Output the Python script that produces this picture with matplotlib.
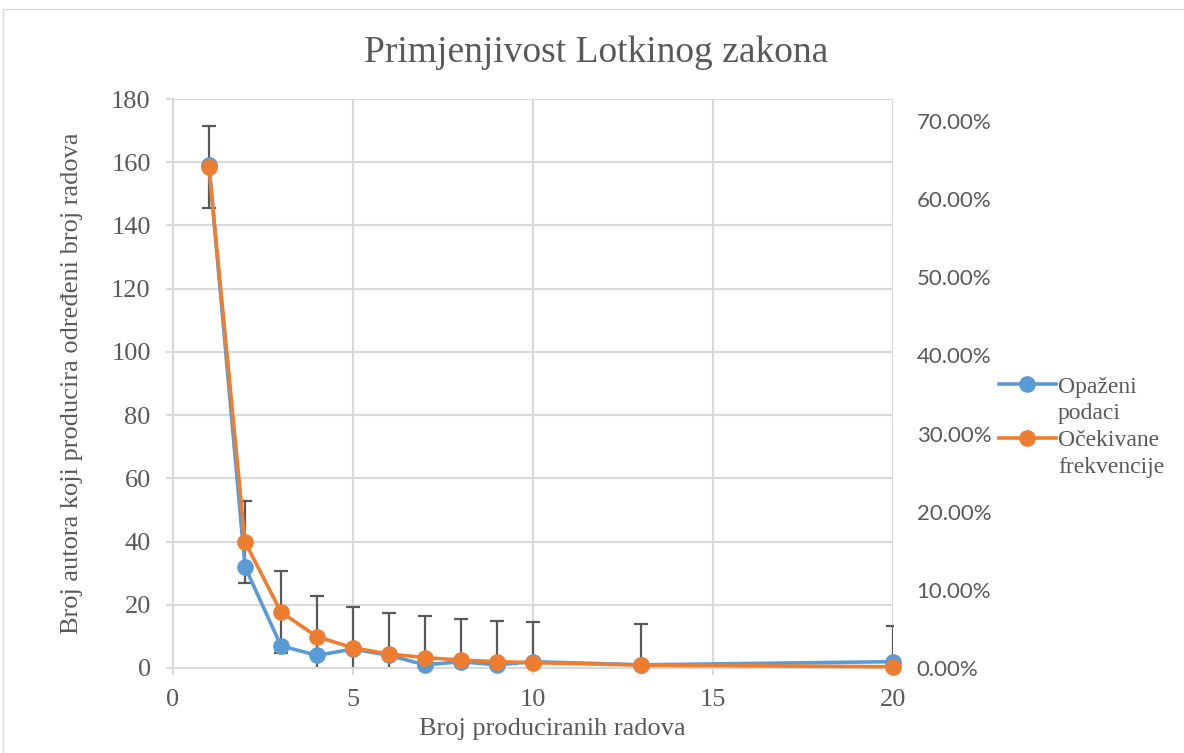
import matplotlib
matplotlib.use("Agg")
import matplotlib.pyplot as plt
from matplotlib.patches import Rectangle
from matplotlib.lines import Line2D
from matplotlib.ticker import FuncFormatter, MultipleLocator

# ---- data ----
x_vals = [1, 2, 3, 4, 5, 6, 7, 8, 9, 10, 13, 20]
observed = [159, 32, 7, 4, 6, 4, 1, 2, 1, 2, 1, 2]
expected = [158.5, 39.9, 17.7, 9.9, 6.4, 4.4, 3.3, 2.5, 2.0, 1.7, 0.94, 0.4]
err_value = 13
series_names = [("Opaženi", "podaci"), ("Očekivane", "frekvencije")]
title = "Primjenjivost Lotkinog zakona"
xlabel = "Broj produciranih radova"
ylabel = "Broj autora koji producira određeni broj radova"
x_ticks = [0, 5, 10, 15, 20]
right_ticks = [0.0, 0.1, 0.2, 0.3, 0.4, 0.5, 0.6, 0.7]

BLUE = "#5B9BD5"
ORANGE = "#ED7D31"
TXT = "#595959"
GRID = "#D9D9D9"
SERIF = ["Liberation Serif", "DejaVu Serif"]
SANS = ["Lato", "DejaVu Sans"]

W, H = 1184, 753
fig = plt.figure(figsize=(W / 100, H / 100), dpi=100)
fig.patch.set_facecolor("white")

# chart border
fig.patches.append(Rectangle((3 / W, -0.1), 1.2, 1.1 - 9 / H, transform=fig.transFigure,
                             fill=False, edgecolor="#D9D9D9", linewidth=1.0))

l, r, t, b = 173, 893, 99, 668
ax = fig.add_axes([l / W, 1 - b / H, (r - l) / W, (b - t) / H])
ax.set_xlim(0, 20)
ax.set_ylim(0, 180)

for s in ax.spines.values():
    s.set_visible(False)
for side in ("bottom", "left"):
    ax.spines[side].set_visible(True)
    ax.spines[side].set_color(GRID)
    ax.spines[side].set_linewidth(1.5)

ax.set_xticks(x_ticks)
ax.yaxis.set_major_locator(MultipleLocator(20))
ax.grid(True, color=GRID, linewidth=1.5)
ax.set_axisbelow(True)
ax.tick_params(axis="both", colors=GRID, length=5, width=1.5)
ax.tick_params(axis="x", labelcolor=TXT, pad=10)
ax.tick_params(axis="y", labelcolor=TXT, pad=11)
for lab in ax.get_xticklabels() + ax.get_yticklabels():
    lab.set_family(SERIF)
    lab.set_fontsize(19)

ax.errorbar(x_vals, expected, yerr=err_value, fmt="none", ecolor=TXT,
            elinewidth=1.6, capsize=5, capthick=1.6, zorder=2, clip_on=True)
ax.plot(x_vals, observed, color=BLUE, lw=2.6, marker="o", ms=11, zorder=3, clip_on=False)
ax.plot(x_vals, expected, color=ORANGE, lw=2.6, marker="o", ms=11, zorder=4, clip_on=False)

ax.set_xlabel(xlabel, family=SERIF, fontsize=19, color=TXT, labelpad=5)
ax.xaxis.label.set_x((552 - l) / (r - l))
ax.set_ylabel(ylabel, family=SERIF, fontsize=19, color=TXT, labelpad=20)

ax2 = ax.twinx()
k = 24.72  # left units per 10%
ax2.set_ylim(0, 180 / k * 0.1)
ax2.set_yticks(right_ticks)
ax2.yaxis.set_major_formatter(FuncFormatter(lambda v, p: f"{v*100:.2f}%"))
for s in ax2.spines.values():
    s.set_visible(False)
ax2.tick_params(axis="y", length=0, pad=17, labelcolor=TXT)
for lab in ax2.get_yticklabels():
    lab.set_family(SANS)
    lab.set_fontsize(16)

fig.text(596 / W, 1 - 53 / H, title, family=SERIF, fontsize=27, color=TXT,
         ha="center", va="center")

# legend: one row per text line, handle next to the first line of each entry
handles, labels = [], []
for color, (first, second) in zip([BLUE, ORANGE], series_names):
    handles.append(Line2D([], [], color=color, lw=2.6, marker="o", ms=11))
    labels.append(first)
    handles.append(Line2D([], [], linestyle="none"))
    labels.append(second)
leg = ax.legend(handles, labels, loc="upper left", bbox_to_anchor=(999 / W, 1 - 376 / H),
                bbox_transform=fig.transFigure, frameon=False,
                prop={"family": SERIF, "size": 17}, handlelength=2.4,
                handletextpad=0.1, labelspacing=0.22, borderpad=0, borderaxespad=0)
for txt in leg.get_texts():
    txt.set_color(TXT)

fig.savefig("out.png", dpi=100, facecolor="white")
